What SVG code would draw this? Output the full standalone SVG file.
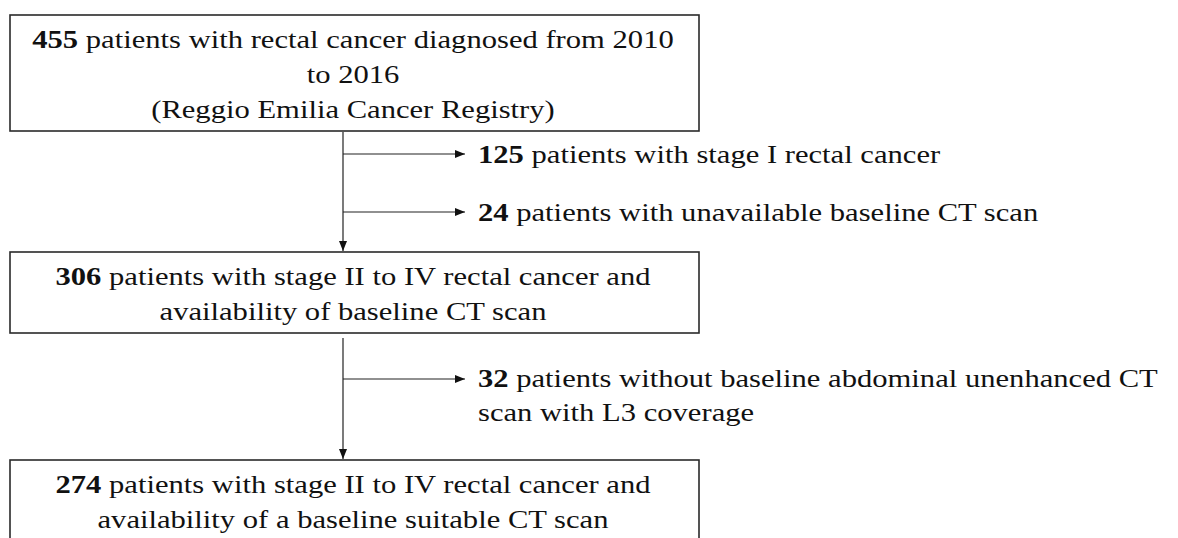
<svg xmlns="http://www.w3.org/2000/svg" width="1178" height="538" viewBox="0 0 1178 538">
<style>
.box{fill:#fff;stroke:#2a2a2a;stroke-width:1.6}
.t{font-family:"Liberation Serif","Times New Roman",serif;font-size:25px;fill:#111}
.c{text-anchor:middle}
.b{font-weight:bold}
.ln{stroke:#222;stroke-width:1.2;fill:none}
</style>
<defs>
<marker id="ah" markerUnits="userSpaceOnUse" markerWidth="10" markerHeight="8" refX="10" refY="4" orient="auto">
<path d="M0,0 L10,4 L0,8 z" fill="#111"/>
</marker>
</defs>
<rect width="1178" height="538" fill="#fff"/>
<g id="connectors">
<line class="ln" x1="343" y1="132" x2="343" y2="251" marker-end="url(#ah)"/>
<line class="ln" x1="343" y1="154" x2="465" y2="154" marker-end="url(#ah)"/>
<line class="ln" x1="343" y1="212" x2="465" y2="212" marker-end="url(#ah)"/>
<line class="ln" x1="343" y1="338" x2="343" y2="459" marker-end="url(#ah)"/>
<line class="ln" x1="343" y1="379" x2="465" y2="379" marker-end="url(#ah)"/>
</g>
<g id="n1">
<rect class="box" x="10" y="15" width="689" height="116"/>
<text class="t c" transform="translate(353,48) scale(1.224,1)"><tspan class="b">455</tspan> patients with rectal cancer diagnosed from 2010</text>
<text class="t c" transform="translate(353,83) scale(1.224,1)">to 2016</text>
<text class="t c" transform="translate(353,118) scale(1.224,1)">(Reggio Emilia Cancer Registry)</text>
</g>
<g id="e1">
<text class="t" transform="translate(478,163) scale(1.224,1)"><tspan class="b">125</tspan> patients with stage I rectal cancer</text>
</g>
<g id="e2">
<text class="t" transform="translate(478,221) scale(1.224,1)"><tspan class="b">24</tspan> patients with unavailable baseline CT scan</text>
</g>
<g id="n2">
<rect class="box" x="10" y="252" width="689" height="81"/>
<text class="t c" transform="translate(353,285) scale(1.224,1)"><tspan class="b">306</tspan> patients with stage II to IV rectal cancer and</text>
<text class="t c" transform="translate(353,320) scale(1.224,1)">availability of baseline CT scan</text>
</g>
<g id="e3">
<text class="t" transform="translate(478,387) scale(1.224,1)"><tspan class="b">32</tspan> patients without baseline abdominal unenhanced CT</text>
<text class="t" transform="translate(478,421) scale(1.224,1)">scan with L3 coverage</text>
</g>
<g id="n3">
<rect class="box" x="10" y="460" width="689" height="110"/>
<text class="t c" transform="translate(353,493) scale(1.224,1)"><tspan class="b">274</tspan> patients with stage II to IV rectal cancer and</text>
<text class="t c" transform="translate(353,528) scale(1.224,1)">availability of a baseline suitable CT scan</text>
</g>
</svg>
